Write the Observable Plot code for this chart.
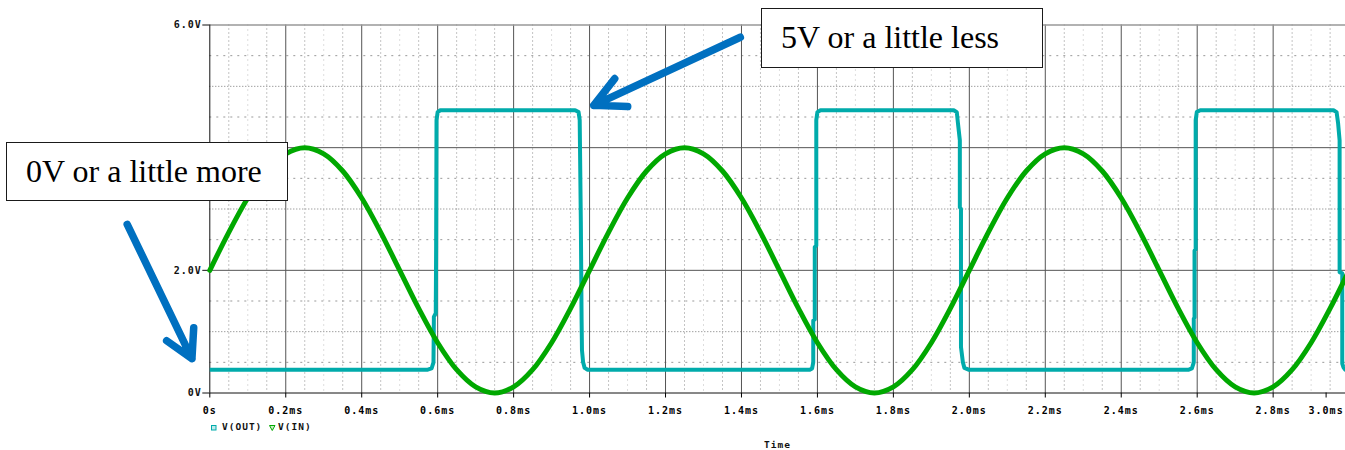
<!DOCTYPE html>
<html><head><meta charset="utf-8">
<script src="https://cdn.jsdelivr.net/npm/d3@7"></script>
<script src="https://cdn.jsdelivr.net/npm/@observablehq/plot@0.6"></script>
<style>
html,body{margin:0;padding:0;background:#fff;overflow:hidden;width:1345px;height:450px}
#wrap{position:relative;width:1345px;height:450px;overflow:hidden}
#chart svg{max-width:none!important}
.note{position:absolute;box-sizing:border-box;border:1.5px solid #1a1a1a;background:#fff;font-family:"Liberation Serif","Times New Roman",serif;font-size:32px;color:#000;white-space:nowrap;padding-left:19px}
.mono{position:absolute;font-family:"DejaVu Sans Mono",monospace;font-weight:bold;font-size:9.5px;letter-spacing:1px;color:#111;white-space:nowrap}
</style>
</head><body>
<div id="wrap">
  <div id="chart"></div>
  <div class="note" id="n1"></div>
  <div class="note" id="n2"></div>
  <div id="legend"></div>
  <div class="mono" id="xtitle"></div>
</div>
<script>
// ---- data ----
const xTicks = [0, 0.2, 0.4, 0.6, 0.8, 1.0, 1.2, 1.4, 1.6, 1.8, 2.0, 2.2, 2.4, 2.6, 2.8, 3.0];
const yTicks = [0, 2, 4, 6];
const seriesNames = ["V(OUT)", "V(IN)"];
const seriesColors = ["#00abab", "#00a800"];

const inTime = [0, 0.05, 0.1, 0.15, 0.2, 0.25, 0.3, 0.35, 0.4, 0.45,
  0.5, 0.55, 0.6, 0.65, 0.7, 0.75, 0.8, 0.85, 0.9, 0.95,
  1.0, 1.05, 1.1, 1.15, 1.2, 1.25, 1.3, 1.35, 1.4, 1.45,
  1.5, 1.55, 1.6, 1.65, 1.7, 1.75, 1.8, 1.85, 1.9, 1.95,
  2.0, 2.05, 2.1, 2.15, 2.2, 2.25, 2.3, 2.35, 2.4, 2.45,
  2.5, 2.55, 2.6, 2.65, 2.7, 2.75, 2.8, 2.85, 2.9, 2.95, 3.0];
const inVolts = [2.00, 2.62, 3.18, 3.62, 3.90, 4.00, 3.90, 3.62, 3.18, 2.62,
  2.00, 1.38, 0.82, 0.38, 0.10, 0.00, 0.10, 0.38, 0.82, 1.38,
  2.00, 2.62, 3.18, 3.62, 3.90, 4.00, 3.90, 3.62, 3.18, 2.62,
  2.00, 1.38, 0.82, 0.38, 0.10, 0.00, 0.10, 0.38, 0.82, 1.38,
  2.00, 2.62, 3.18, 3.62, 3.90, 4.00, 3.90, 3.62, 3.18, 2.62,
  2.00, 1.38, 0.82, 0.38, 0.10, 0.00, 0.10, 0.38, 0.82, 1.38, 2.00];

const outTime = [0, 0.574, 0.584, 0.589, 0.590, 0.590, 0.595, 0.596, 0.597, 0.600, 0.607,
  0.962, 0.971, 0.974, 0.977, 0.979, 0.980, 0.983, 0.987, 0.995,
  1.580, 1.586, 1.589, 1.589, 1.593, 1.593, 1.597, 1.597, 1.600, 1.608,
  1.959, 1.967, 1.970, 1.975, 1.975, 1.978, 1.978, 1.983, 1.987, 1.998,
  2.578, 2.586, 2.591, 2.591, 2.593, 2.593, 2.596, 2.596, 2.599, 2.608,
  2.959, 2.967, 2.971, 2.975, 2.975, 2.982, 2.982, 2.985, 2.990, 3.0];
const outVolts = [0.38, 0.38, 0.40, 0.50, 1.20, 1.24, 1.30, 2.40, 4.45, 4.58, 4.61,
  4.61, 4.58, 4.45, 2.80, 1.20, 0.70, 0.50, 0.41, 0.38,
  0.38, 0.40, 0.50, 1.18, 1.20, 2.38, 2.40, 4.45, 4.58, 4.61,
  4.61, 4.58, 4.40, 4.12, 3.03, 3.00, 0.75, 0.50, 0.41, 0.38,
  0.38, 0.40, 0.50, 1.21, 1.23, 2.32, 2.34, 4.45, 4.58, 4.61,
  4.61, 4.58, 4.40, 4.12, 1.97, 1.95, 0.48, 0.42, 0.38, 0.38];

const noteTexts = ["5V or a little less", "0V or a little more"];
const arrowTailT = [1.397, -0.2175];
const arrowTailV = [5.80, 2.75];
const arrowTipT = [1.011, -0.047];
const arrowTipV = [4.69, 0.56];

// ---- build ----
const inData = inTime.map((t, i) => ({t, v: inVolts[i]}));
const outData = outTime.map((t, i) => ({t, v: outVolts[i]}));
const arrows = arrowTailT.map((t, i) => ({x1: t, y1: arrowTailV[i], x2: arrowTipT[i], y2: arrowTipV[i]}));

const minorIdx = d3.range(1, 60).filter(i => i % 4 !== 0);
const minorX1 = minorIdx.filter(i => i % 2 === 1).map(i => i * 0.05);
const minorX2 = minorIdx.filter(i => i % 2 === 0).map(i => i * 0.05);
const minorYIdx = d3.range(1, 12).filter(i => i % 4 !== 0);
const minorY1 = minorYIdx.filter(i => i % 2 === 1).map(i => i * 0.5);
const minorY2 = minorYIdx.filter(i => i % 2 === 0).map(i => i * 0.5);

const mono = "DejaVu Sans Mono";
const xFmt = d => d === 0 ? "0s" : d.toFixed(1) + "ms";
const yFmt = d => d === 0 ? "0V" : d.toFixed(1) + "V";

const W = 1370, H = 420;
const chart = Plot.plot({
  width: W, height: H,
  marginLeft: 209.3, marginRight: W - 1348.6, marginTop: 24.5, marginBottom: H - 392.5,
  style: {maxWidth: "none", overflow: "visible", letterSpacing: "1px", background: "transparent"},
  x: {domain: [0, 3.0]},
  y: {domain: [0, 6]},
  marks: [
    Plot.ruleX(minorX1, {stroke: "#888", strokeDasharray: "1,3"}),
    Plot.ruleX(minorX2, {stroke: "#bbb", strokeDasharray: "1,4"}),
    Plot.ruleY(minorY2, {stroke: "#777", strokeDasharray: "1,2"}),
    Plot.ruleY(minorY1, {stroke: "#999", strokeDasharray: "2,5"}),
    Plot.ruleX(xTicks.filter(d => d > 0), {stroke: "#555"}),
    Plot.ruleY([2, 4], {stroke: "#555"}),
    Plot.ruleY([6], {stroke: "#999", strokeWidth: 1.5}),
    Plot.ruleX([0], {stroke: "#111"}),
    Plot.ruleY([0], {stroke: "#111"}),
    Plot.axisY(yTicks, {tickFormat: yFmt, tickSize: 7, tickPadding: 1, fontSize: 10, fontFamily: mono, fontWeight: "bold", label: null, stroke: null, fill: "#111"}),
    Plot.axisY(yTicks, {tickFormat: null, text: null, tickSize: 7, stroke: "#111", label: null}),
    Plot.axisX(xTicks.slice(0, -1), {tickFormat: xFmt, tickSize: 5, tickPadding: 9, fontSize: 10, fontFamily: mono, fontWeight: "bold", label: null}),
    Plot.axisX([3.0], {tickFormat: xFmt, tickSize: 5, tickPadding: 9, fontSize: 10, fontFamily: mono, fontWeight: "bold", label: null, dx: -23}),
    Plot.line(outData, {x: "t", y: "v", stroke: seriesColors[0], strokeWidth: 4, strokeLinejoin: "round", strokeLinecap: "butt"}),
    Plot.line(inData, {x: "t", y: "v", stroke: seriesColors[1], strokeWidth: 5, curve: "catmull-rom", strokeLinejoin: "round"}),
    Plot.arrow([arrows[0]], {x1: "x1", y1: "y1", x2: "x2", y2: "y2", stroke: "#0070c0", strokeWidth: 7.5, headLength: 6.8, headAngle: 54, strokeLinecap: "round", strokeLinejoin: "round"}),
    Plot.arrow([arrows[1]], {x1: "x1", y1: "y1", x2: "x2", y2: "y2", stroke: "#0070c0", strokeWidth: 7.5, headLength: 6.2, headAngle: 58, strokeLinecap: "round", strokeLinejoin: "round"})
  ]
});
document.getElementById("chart").appendChild(chart);

// annotation boxes
const n1 = document.getElementById("n1");
n1.textContent = noteTexts[0];
Object.assign(n1.style, {left: "761px", top: "8px", width: "282px", height: "60px", lineHeight: "57px"});
const n2 = document.getElementById("n2");
n2.textContent = noteTexts[1];
Object.assign(n2.style, {left: "6px", top: "142px", width: "282px", height: "59px", lineHeight: "56px"});

// legend
const legend = document.getElementById("legend");
const mk = (html, left) => { const s = document.createElement("div"); s.className = "mono"; s.style.left = left + "px"; s.style.top = "421px"; s.innerHTML = html; legend.appendChild(s); return s; };
mk(`<svg width="6" height="6" style="vertical-align:middle"><rect x="0.5" y="0.5" width="4.5" height="4.5" fill="#bfeaea" stroke="${seriesColors[0]}" stroke-width="1"/></svg>`, 211);
mk(seriesNames[0], 222);
mk(`<svg width="7" height="6" style="vertical-align:middle"><path d="M0.5,0.5 L6,0.5 L3.25,5.5 Z" fill="#c8f0c8" stroke="${seriesColors[1]}" stroke-width="1"/></svg>`, 269);
mk(seriesNames[1], 278);

const xt = document.getElementById("xtitle");
xt.textContent = "Time";
Object.assign(xt.style, {left: "764px", top: "439px"});
</script>
</body></html>
